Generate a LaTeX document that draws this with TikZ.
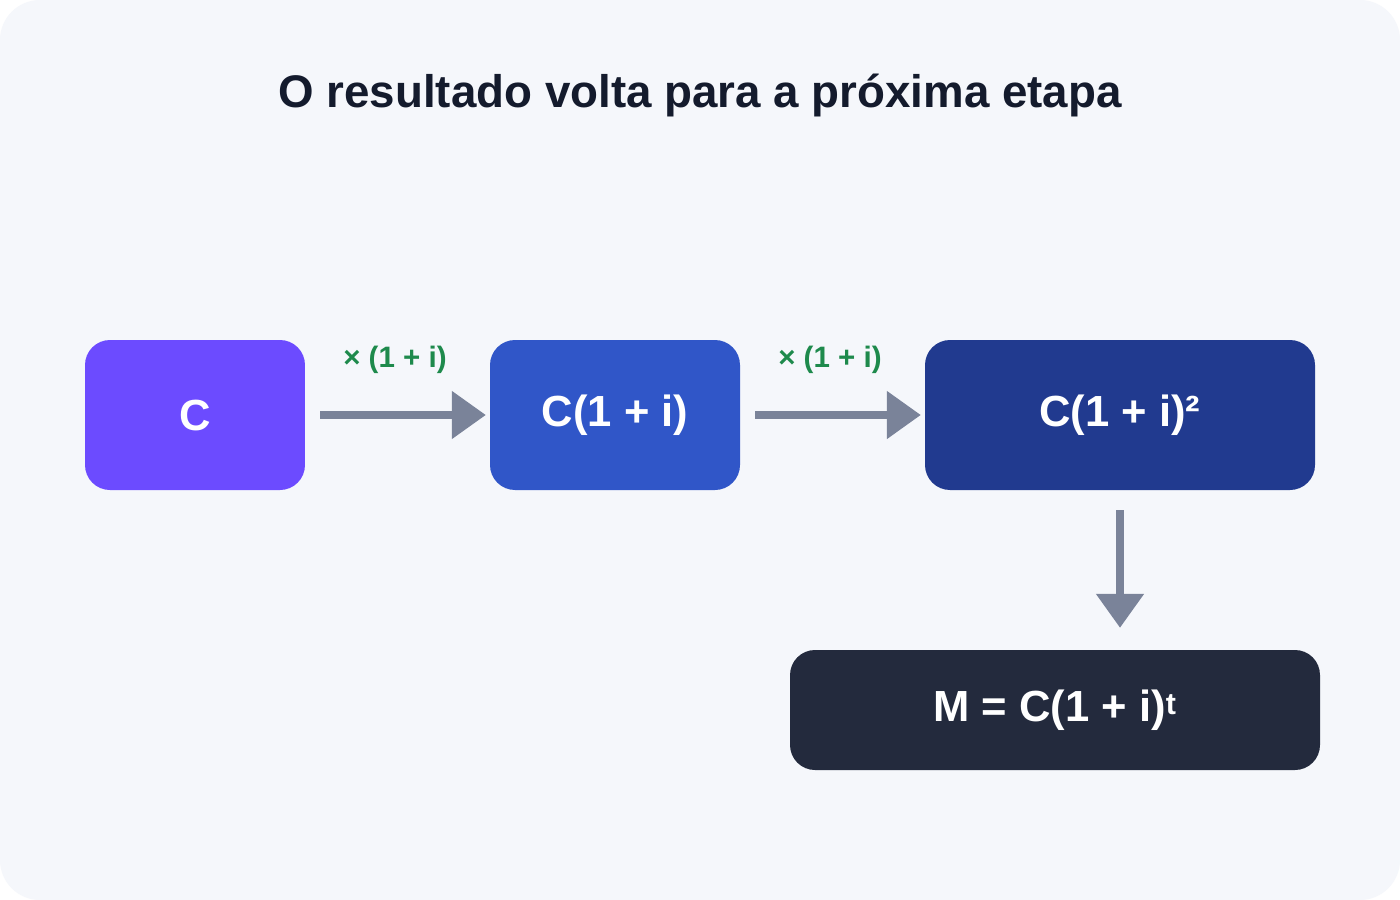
\documentclass[tikz,border=0pt]{standalone}
\usepackage{fontspec}
\setmainfont{Liberation Sans}
\usetikzlibrary{arrows.meta}
\definecolor{bg}{HTML}{F5F7FB}
\definecolor{cA}{HTML}{6C4BFF}
\definecolor{cB}{HTML}{3056C8}
\definecolor{cC}{HTML}{213A8F}
\definecolor{cD}{HTML}{232A3D}
\definecolor{arr}{HTML}{7A8399}
\definecolor{grn}{HTML}{1E8A4C}
\definecolor{ttl}{HTML}{141B2D}
\begin{document}
\begin{tikzpicture}[x=0.05cm,y=-0.05cm,
  box/.style={rounded corners=1.25cm,inner sep=0,text=white,font=\fontsize{62}{70}\selectfont\bfseries},
  con/.style={draw=arr,line width=0.4cm,-{Triangle[width=2.3cm,length=1.7cm]},fill=arr},
  lbl/.style={text=grn,font=\fontsize{42}{48}\selectfont\bfseries}]
\useasboundingbox (0,0) rectangle (1400,900);
\fill[white] (0,0) rectangle (1400,900);
\fill[bg,rounded corners=2cm] (0,0) rectangle (1400,900);
\node[text=ttl,font=\fontsize{65}{74}\selectfont\bfseries] (title) at (700,95) {O resultado volta para a próxima etapa};
\node[box,fill=cA,minimum width=11cm,minimum height=7.5cm] (c) at (195,415) {C};
\node[box,fill=cB,minimum width=12.5cm,minimum height=7.5cm] (c1) at (615,415) {C(1 + i)};
\node[box,fill=cC,minimum width=19.5cm,minimum height=7.5cm] (c2) at (1120,415) {C(1 + i)²};
\node[box,fill=cD,minimum width=26.5cm,minimum height=6cm] (m) at (1055,710) {M = C(1 + i)\textsuperscript{t}};
\draw[con,shorten <=0.75cm,shorten >=0.2cm] (c) -- (c1);
\draw[con,shorten <=0.75cm,shorten >=0.2cm] (c1) -- (c2);
\draw[con,shorten <=1cm,shorten >=1.1cm] (c2.south) -- (c2.south |- m.north);
\node[lbl] (l1) at (395,360) {× (1 + i)};
\node[lbl] (l2) at (830,360) {× (1 + i)};
\end{tikzpicture}
\end{document}
